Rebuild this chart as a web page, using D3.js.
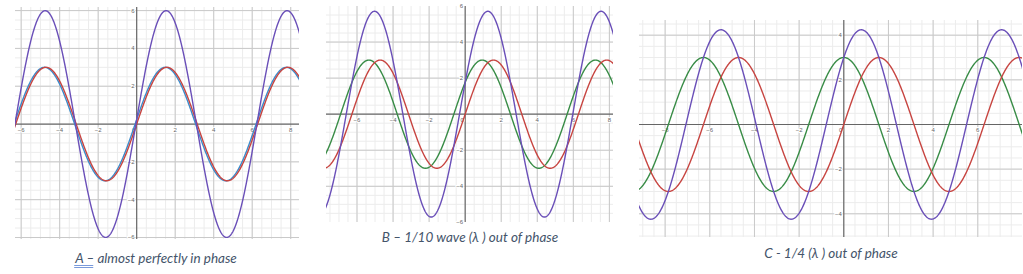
<!DOCTYPE html>
<html>
<head>
<meta charset="utf-8">
<script src="https://cdn.jsdelivr.net/npm/d3@7"></script>
<style>
  body { margin: 0; background: #fff; }
  svg { display: block; }
  .tick-label { font-family: "Liberation Sans", Arial, sans-serif; font-size: 6px; fill: #666; paint-order: stroke; stroke: #fff; stroke-width: 2px; }
  .caption { font-family: Lato, "Open Sans", sans-serif; font-style: italic; font-size: 13.5px; fill: #44546a; }
</style>
</head>
<body>
<svg id="chart" width="1023" height="274"></svg>
<script>
// values
const panelNames = ['A', 'B', 'C'];
const captions = ['A \u2013 almost perfectly in phase', 'B \u2013 1/10 wave (\u03bb ) out of phase', 'C - 1/4 (\u03bb ) out of phase'];
const xDomains = [[-6.32, 8.43], [-7.72, 8.2], [-9.17, 7.98]];
const yDomains = [[-6.08, 6.19], [-5.98, 6.0], [-5.04, 4.68]];
const xTickValues = [[-6, -4, -2, 0, 2, 4, 6, 8], [-6, -4, -2, 0, 2, 4, 6, 8], [-8, -6, -4, -2, 0, 2, 4, 6]];
const yTickValues = [[-6, -4, -2, 2, 4, 6], [-6, -4, -2, 2, 4, 6], [-4, -2, 2, 4]];
const amplitude = [3, 3, 3];          // red and second wave
const redPhase = [0, 0, 0];
const secondPhase = [0.08, 0.628, 1.571]; // phase shift of 2nd wave (rad)
const secondColor = ['#3a8ccc', '#388c46', '#388c46'];

// layout of the three plots on the page
const boxes = [
  { x0: 15, y0: 7, x1: 299, y1: 239, capX: 156, capY: 263 },
  { x0: 326, y0: 6, x1: 613, y1: 222, capX: 470, capY: 242 },
  { x0: 639, y0: 20, x1: 1022, y1: 237, capX: 831, capY: 258 }
];
const red = '#c74440', purple = '#6a4fb8';

const svg = d3.select('#chart');

panelNames.forEach((name, i) => {
  const b = boxes[i];
  const x = d3.scaleLinear().domain(xDomains[i]).range([b.x0, b.x1]);
  const y = d3.scaleLinear().domain(yDomains[i]).range([b.y1, b.y0]);
  const g = svg.append('g');

  g.append('clipPath').attr('id', 'clip' + name)
    .append('rect').attr('x', b.x0).attr('y', b.y0).attr('width', b.x1 - b.x0).attr('height', b.y1 - b.y0);

  const minorX = d3.range(Math.ceil(xDomains[i][0] * 2) / 2, xDomains[i][1], 0.5);
  const minorY = d3.range(Math.ceil(yDomains[i][0] * 2) / 2, yDomains[i][1], 0.5);

  // minor grid
  g.append('g').selectAll('line').data(minorX).join('line')
    .attr('x1', d => x(d)).attr('x2', d => x(d)).attr('y1', b.y0).attr('y2', b.y1)
    .attr('stroke', '#ececec').attr('stroke-width', 1);
  g.append('g').selectAll('line').data(minorY).join('line')
    .attr('y1', d => y(d)).attr('y2', d => y(d)).attr('x1', b.x0).attr('x2', b.x1)
    .attr('stroke', '#ececec').attr('stroke-width', 1);

  // major grid
  const majorX = minorX.filter(d => d % 2 === 0 && d !== 0);
  const majorY = minorY.filter(d => d % 2 === 0 && d !== 0);
  g.append('g').selectAll('line').data(majorX).join('line')
    .attr('x1', d => x(d)).attr('x2', d => x(d)).attr('y1', b.y0).attr('y2', b.y1)
    .attr('stroke', '#c9c9c9').attr('stroke-width', 1);
  g.append('g').selectAll('line').data(majorY).join('line')
    .attr('y1', d => y(d)).attr('y2', d => y(d)).attr('x1', b.x0).attr('x2', b.x1)
    .attr('stroke', '#c9c9c9').attr('stroke-width', 1);

  // axes
  g.append('line').attr('x1', b.x0).attr('x2', b.x1).attr('y1', y(0)).attr('y2', y(0))
    .attr('stroke', '#666').attr('stroke-width', 1.2);
  g.append('line').attr('x1', x(0)).attr('x2', x(0)).attr('y1', b.y0).attr('y2', b.y1)
    .attr('stroke', '#666').attr('stroke-width', 1.2);

  // tick labels
  g.append('g').selectAll('text').data(xTickValues[i]).join('text')
    .attr('class', 'tick-label')
    .attr('x', d => d === 0 ? x(0) - 3 : x(d)).attr('y', y(0) + 8)
    .attr('text-anchor', 'middle')
    .text(d => d < 0 ? '\u2212' + (-d) : d);
  g.append('g').selectAll('text').data(yTickValues[i]).join('text')
    .attr('class', 'tick-label')
    .attr('x', x(0) - 2).attr('y', d => y(d) + 2)
    .attr('text-anchor', 'end')
    .text(d => d < 0 ? '\u2212' + (-d) : d);

  // waves
  const xs = d3.range(xDomains[i][0] - 0.1, xDomains[i][1] + 0.1, 0.02);
  const w1 = xs.map(v => [v, amplitude[i] * Math.sin(v + redPhase[i])]);
  const w2 = xs.map(v => [v, amplitude[i] * Math.sin(v + secondPhase[i])]);
  const sum = xs.map((v, k) => [v, w1[k][1] + w2[k][1]]);
  const line = d3.line().x(d => x(d[0])).y(d => y(d[1])).curve(d3.curveLinear);
  const curves = g.append('g').attr('clip-path', `url(#clip${name})`);
  [[w2, secondColor[i]], [w1, red], [sum, purple]].forEach(([data, color]) => {
    curves.append('path').attr('d', line(data))
      .attr('fill', 'none').attr('stroke', color).attr('stroke-width', 1.4);
  });

  // caption
  const cap = svg.append('text').attr('class', 'caption')
    .attr('x', b.capX).attr('y', b.capY).attr('text-anchor', 'middle')
    .text(captions[i]);

  if (i === 0) {
    // "A –" carries a double underline in the original
    const bbox = cap.node().getBBox();
    const w = cap.node().getSubStringLength(0, 3);
    [2.5, 4.5].forEach(off => {
      svg.append('line').attr('x1', bbox.x).attr('x2', bbox.x + w)
        .attr('y1', b.capY + off).attr('y2', b.capY + off)
        .attr('stroke', '#6b8fd6').attr('stroke-width', 0.9);
    });
  }
});
</script>
</body>
</html>
